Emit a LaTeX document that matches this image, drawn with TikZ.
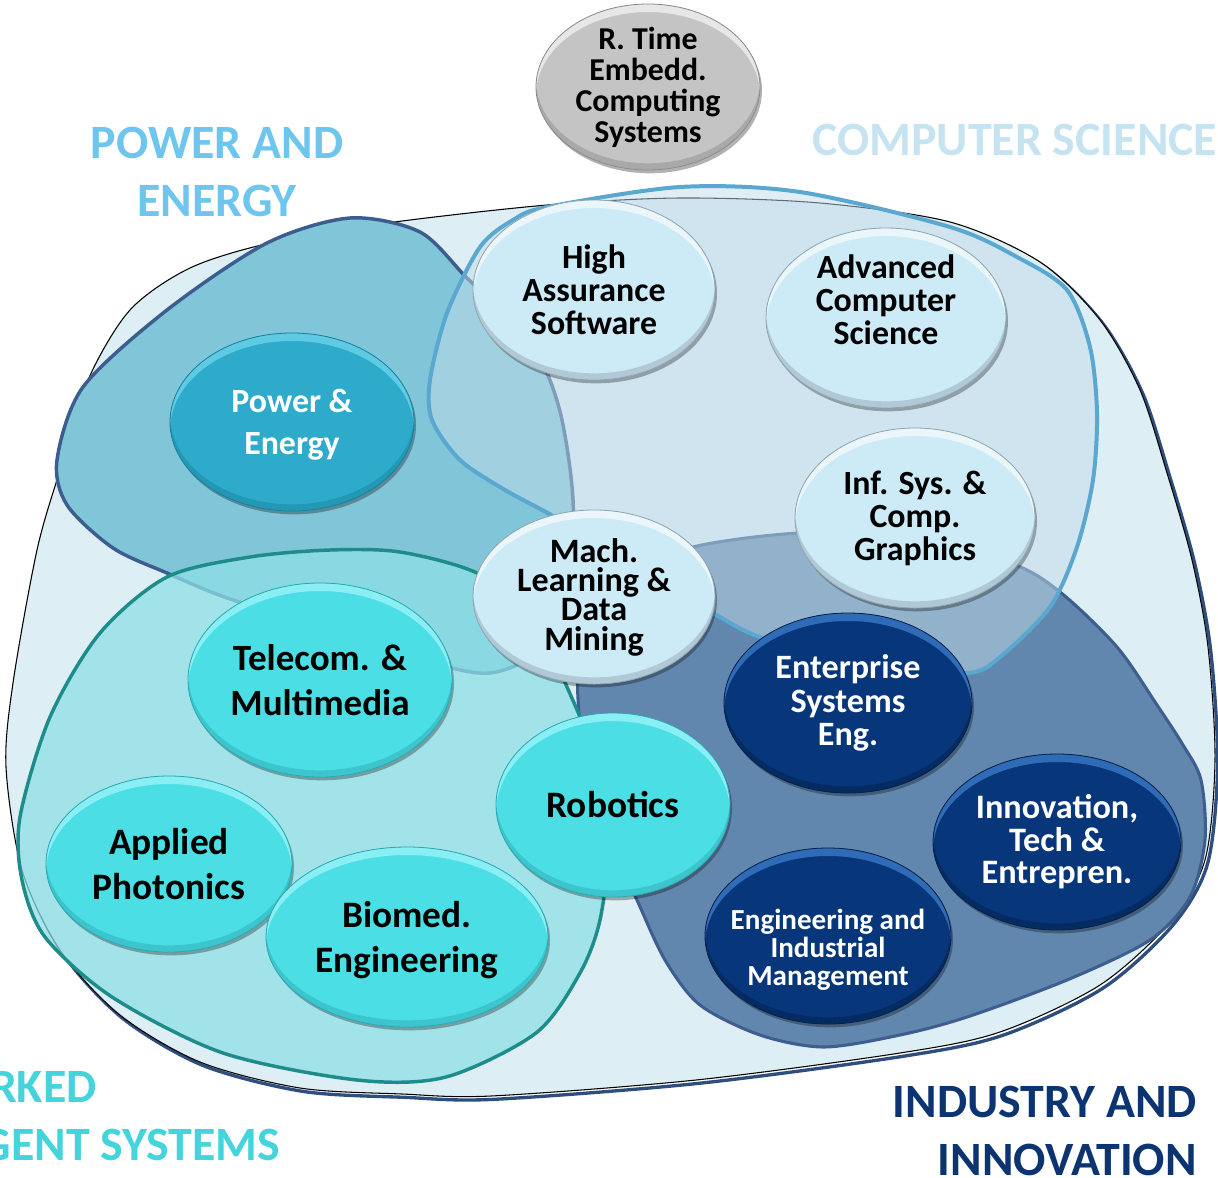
\documentclass[tikz,border=0pt]{standalone}
\usepackage{fontspec}
\setmainfont{Carlito}
\usetikzlibrary{shapes.geometric,shadows,calc}

\definecolor{outerfill}{HTML}{DDEFF5}
\definecolor{outershade}{HTML}{2E4E7E}
\definecolor{pefill}{HTML}{80C5D8}
\definecolor{peline}{HTML}{3C5D8E}
\definecolor{csfill}{HTML}{C2DBE9}
\definecolor{csline}{HTML}{5AA8D0}
\definecolor{nisfill}{HTML}{8EDFE6}
\definecolor{nisline}{HTML}{1F8C8C}
\definecolor{indfill}{HTML}{6287AE}
\definecolor{indline}{HTML}{3D5E8E}
\definecolor{grayfill}{HTML}{C4C4C4}
\definecolor{grayrim}{HTML}{8A8A8A}
\definecolor{skyfill}{HTML}{CDEAF7}
\definecolor{skyrim}{HTML}{8FA3AF}
\definecolor{tealfill}{HTML}{2EAACA}
\definecolor{tealrim}{HTML}{17809A}
\definecolor{tealhl}{HTML}{7FE0F5}
\definecolor{cyanfill}{HTML}{4BDFE5}
\definecolor{cyanrim}{HTML}{2AA7B0}
\definecolor{cyanhl}{HTML}{B5FBFF}
\definecolor{navyfill}{HTML}{07377A}
\definecolor{navyrim}{HTML}{021F48}
\definecolor{navyhl}{HTML}{4A8EE0}
\definecolor{pelabel}{HTML}{6EC6EE}
\definecolor{cslabel}{HTML}{C5E3F0}
\definecolor{nislabel}{HTML}{45D3DC}
\definecolor{indlabel}{HTML}{0B3470}

\begin{document}
\begin{tikzpicture}[x=0.75pt,y=-0.75pt,
    blob/.style={smooth cycle,tension=0.5},
    bubble/.style n args={3}{ellipse,fill=#1,draw=#2,line width=0.6pt,
      inner xsep=-40pt,inner ysep=-30pt,align=center,
      drop shadow={shadow xshift=1.5pt,shadow yshift=-2.5pt,opacity=.3,fill=black},
      path picture={
        \fill[#2,opacity=.45,even odd rule]
          let \p1=(path picture bounding box.north east),\p2=(path picture bounding box.south west),
              \n1={(\x1-\x2)/2},\n2={(\y1-\y2)/2} in
          (path picture bounding box.center) ellipse [x radius={\n1*1pt},y radius={\n2*1pt}]
          ([yshift=5pt]path picture bounding box.center) ellipse [x radius={\n1*1pt},y radius={\n2*1pt}];
        \fill[#3,opacity=.6,even odd rule]
          let \p1=(path picture bounding box.north east),\p2=(path picture bounding box.south west),
              \n1={(\x1-\x2)/2},\n2={(\y1-\y2)/2} in
          (path picture bounding box.center) ellipse [x radius={\n1*1pt},y radius={\n2*1pt}]
          ([yshift=-6pt]path picture bounding box.center) ellipse [x radius={\n1*1pt},y radius={\n2*1pt}];
      }},
    graybub/.style={bubble={grayfill}{grayrim}{white},text=black},
    skybub/.style={bubble={skyfill}{skyrim}{white},text=black},
    tealbub/.style={bubble={tealfill}{tealrim}{tealhl},text=white},
    cyanbub/.style={bubble={cyanfill}{cyanrim}{cyanhl},text=black},
    navybub/.style={bubble={navyfill}{navyrim}{navyhl},text=white},
    area label/.style={inner sep=0pt,font=\fontsize{35.9}{43.5}\selectfont\bfseries}]

\useasboundingbox (0,0) rectangle (1218,1178);

% outer area
\draw[outershade,line width=2.5pt,xshift=2pt,yshift=-2.5pt] plot[blob] coordinates {
  (680,198) (820,203) (950,222) (1040,262) (1100,320) (1140,390) (1167,473) (1192,560)
  (1208,647) (1215,760) (1205,860) (1170,922) (1100,985) (1000,1032) (900,1053) (696,1080)
  (491,1096) (402,1094) (300,1088) (200,1062) (120,1015) (60,950) (22,870) (6,767) (13,683)
  (37,550) (60,470) (88,380) (130,310) (190,268) (270,243) (387,223) (547,205)};
\draw[fill=outerfill,line width=0.8pt] plot[blob] coordinates {
  (680,198) (820,203) (950,222) (1040,262) (1100,320) (1140,390) (1167,473) (1192,560)
  (1208,647) (1215,760) (1205,860) (1170,922) (1100,985) (1000,1032) (900,1053) (696,1080)
  (491,1096) (402,1094) (300,1088) (200,1062) (120,1015) (60,950) (22,870) (6,767) (13,683)
  (37,550) (60,470) (88,380) (130,310) (190,268) (270,243) (387,223) (547,205)};

% power and energy
\draw[fill=pefill,draw=peline,line width=2.6pt] plot[blob] coordinates {
  (57,460) (83,387) (167,310) (267,243) (350,218) (420,232) (466,277) (510,320) (544,367)
  (562,420) (573,500) (570,590) (540,650) (490,673) (430,662) (340,630) (233,600) (167,573)
  (113,548) (67,505)};

% industry and innovation
\draw[fill=indfill,draw=indline,line width=2.3pt] plot[blob] coordinates {
  (693,547) (640,575) (600,620) (578,670) (585,760) (610,840) (637,900) (665,960) (700,1005)
  (760,1035) (824,1047) (900,1035) (967,1017) (1067,980) (1150,940) (1190,897) (1205,840)
  (1201,780) (1183,745) (1157,705) (1117,647) (1060,592) (1010,563) (900,538) (800,533)};

% networked intelligent systems
\draw[fill=nisfill,fill opacity=.75,draw=nisline,line width=2.6pt] plot[blob] coordinates {
  (22,880) (20,817) (50,717) (100,633) (167,577) (250,557) (330,550) (400,552) (477,573)
  (530,615) (567,687) (595,760) (607,850) (600,920) (580,973) (536,1033) (446,1077)
  (357,1080) (223,1053) (112,997) (45,937)};

% computer science
\draw[fill=csfill,fill opacity=.5,draw=csline,line width=3pt] plot[blob] coordinates {
  (430,380) (447,313) (480,247) (513,220) (547,207) (680,187) (800,192) (950,227) (1017,257)
  (1067,290) (1090,347) (1097,413) (1093,480) (1077,547) (1050,607) (1000,657) (967,673)
  (870,670) (760,637) (713,613) (640,570) (560,520) (505,490) (460,460) (432,420)};

% area labels
\node[area label,text=pelabel,align=center] (pelab) at (217,172) {POWER AND\\ENERGY};
\node[area label,text=cslabel,anchor=west] (cslab) at (812,140) {COMPUTER SCIENCE};
\node[area label,text=nislabel,align=left,anchor=west] (nislab) at (-164,1116) {NETWORKED\\INTELLIGENT SYSTEMS};
\node[area label,text=indlabel,align=right,anchor=east] (indlab) at (1197,1131) {INDUSTRY AND\\INNOVATION};

% groups
\node[graybub,minimum width=168pt,minimum height=124.5pt,font=\fontsize{23.9}{23.25}\selectfont\bfseries]
  (rt) at (648,87) {R. Time\\Embedd.\\Computing\\Systems};
\node[skybub,minimum width=181.5pt,minimum height=135pt,font=\fontsize{25.4}{24.75}\selectfont\bfseries]
  (has) at (594,290) {High\\Assurance\\Software};
\node[skybub,minimum width=180pt,minimum height=135pt,text depth=28pt,font=\fontsize{25.4}{24.75}\selectfont\bfseries]
  (acs) at (886,318) {Advanced\\Computer\\Science};
\node[skybub,minimum width=180pt,minimum height=135pt,font=\fontsize{25.4}{24.75}\selectfont\bfseries]
  (iscg) at (915,518) {Inf. Sys. \&\\Comp.\\Graphics};
\node[skybub,minimum width=181.5pt,minimum height=130.5pt,font=\fontsize{25.6}{22}\selectfont\bfseries]
  (mldm) at (594,597) {Mach.\\Learning \&\\Data\\Mining};
\node[tealbub,minimum width=183pt,minimum height=133.5pt,text depth=-3pt,font=\fontsize{25.4}{31.5}\selectfont\bfseries]
  (pe) at (292,422) {Power \&\\Energy};
\node[cyanbub,minimum width=198pt,minimum height=145.5pt,font=\fontsize{27.8}{33.75}\selectfont\bfseries]
  (tm) at (320,680) {Telecom. \&\\Multimedia};
\node[cyanbub,minimum width=175.5pt,minimum height=138pt,font=\fontsize{28}{33.75}\selectfont\bfseries]
  (rob) at (613,805) {Robotics};
\node[cyanbub,minimum width=184.5pt,minimum height=132pt,font=\fontsize{28}{33.75}\selectfont\bfseries]
  (ap) at (169,864) {Applied\\Photonics};
\node[cyanbub,minimum width=211.5pt,minimum height=135pt,text depth=0pt,font=\fontsize{28}{33.75}\selectfont\bfseries]
  (be) at (407,937) {Biomed.\\Engineering};
\node[navybub,minimum width=186pt,minimum height=135pt,font=\fontsize{25.6}{25.1}\selectfont\bfseries]
  (ese) at (848,703) {Enterprise\\Systems\\Eng.};
\node[navybub,minimum width=186pt,minimum height=132pt,font=\fontsize{25.7}{24.4}\selectfont\bfseries]
  (ite) at (1057,842) {Innovation,\\Tech \&\\Entrepren.};
\node[navybub,minimum width=184.5pt,minimum height=132pt,text depth=-35.5pt,text height=74pt,font=\fontsize{21.8}{21}\selectfont\bfseries]
  (eim) at (828,936) {Engineering and\\Industrial\\Management};

\end{tikzpicture}
\end{document}
